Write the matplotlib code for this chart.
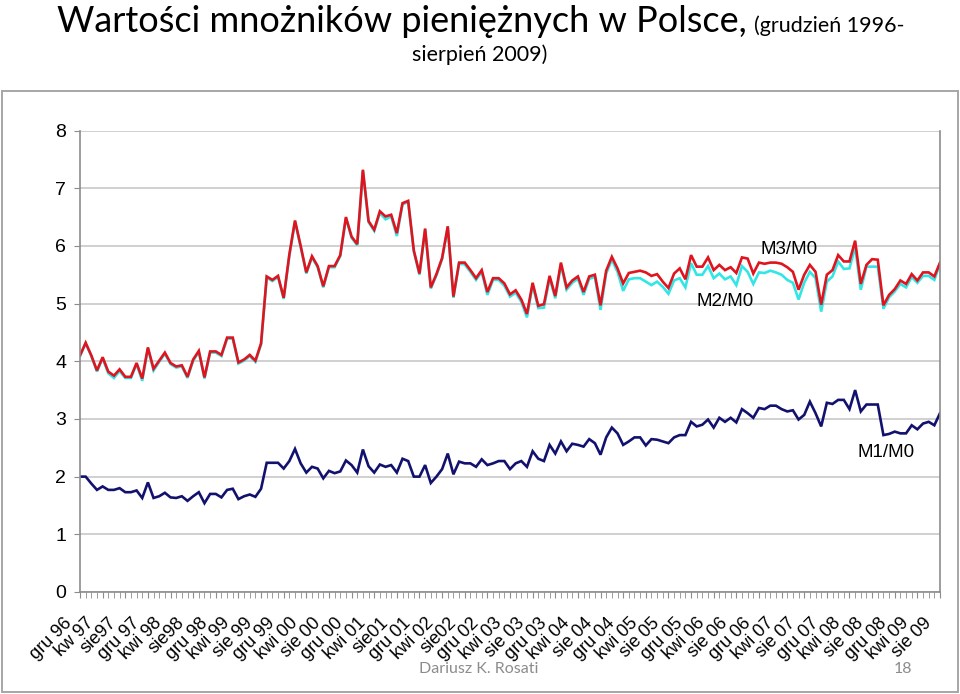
import matplotlib
matplotlib.use("Agg")
import matplotlib.pyplot as plt
import matplotlib.transforms as mtransforms
from matplotlib.patches import Rectangle

# ---- data: monthly, gru 1996 .. sie 2009 (153 months) ----------------------
tick_labels = ["gru 96", "kw 97", "sie97", "gru 97", "kwi 98", "sie98", "gru 98",
               "kwi 99", "sie 99", "gru 99", "kwi 00", "sie 00", "gru 00", "kwi 01",
               "sie01", "gru 01", "kwi 02", "sie02", "gru 02", "kwi 03", "sie 03",
               "gru 03", "kwi 04", "sie 04", "gru 04", "kwi 05", "sie 05", "gru 05",
               "kwi 06", "sie 06", "gru 06", "kwi 07", "sie 07", "gru 07", "kwi 08",
               "sie 08", "gru 08", "kwi 09", "sie 09"]

m3_m0 = [4.10, 4.32, 4.10, 3.84, 4.07, 3.82, 3.75, 3.86, 3.73, 3.73,
         3.97, 3.70, 4.24, 3.87, 4.01, 4.15, 3.97, 3.91, 3.93, 3.73,
         4.03, 4.18, 3.72, 4.17, 4.17, 4.11, 4.41, 4.41, 3.98, 4.03,
         4.11, 4.01, 4.31, 5.47, 5.41, 5.48, 5.10, 5.85, 6.44, 6.00,
         5.54, 5.82, 5.65, 5.30, 5.65, 5.65, 5.84, 6.50, 6.16, 6.03,
         7.32, 6.43, 6.28, 6.60, 6.51, 6.54, 6.22, 6.74, 6.78, 5.92,
         5.52, 6.30, 5.28, 5.51, 5.79, 6.34, 5.12, 5.71, 5.71, 5.58,
         5.44, 5.58, 5.20, 5.44, 5.44, 5.35, 5.16, 5.23, 5.07, 4.82,
         5.36, 4.96, 4.99, 5.48, 5.13, 5.71, 5.28, 5.40, 5.47, 5.20,
         5.47, 5.50, 4.97, 5.57, 5.81, 5.61, 5.35, 5.53, 5.55, 5.57,
         5.54, 5.48, 5.51, 5.38, 5.27, 5.52, 5.61, 5.42, 5.84, 5.64,
         5.64, 5.80, 5.58, 5.67, 5.58, 5.63, 5.53, 5.80, 5.78, 5.52,
         5.71, 5.69, 5.71, 5.71, 5.69, 5.63, 5.55, 5.24, 5.50, 5.67,
         5.55, 4.98, 5.50, 5.58, 5.84, 5.73, 5.73, 6.09, 5.34, 5.67,
         5.77, 5.76, 4.97, 5.15, 5.25, 5.40, 5.34, 5.51, 5.40, 5.54,
         5.54, 5.47, 5.71]

m2_m0 = [4.09, 4.31, 4.09, 3.82, 4.05, 3.79, 3.71, 3.83, 3.71, 3.71,
         3.95, 3.66, 4.22, 3.84, 3.99, 4.13, 3.95, 3.89, 3.91, 3.71,
         4.01, 4.16, 3.70, 4.15, 4.15, 4.09, 4.39, 4.39, 3.96, 4.01,
         4.09, 3.99, 4.29, 5.45, 5.39, 5.46, 5.08, 5.83, 6.42, 5.98,
         5.52, 5.80, 5.63, 5.28, 5.63, 5.63, 5.82, 6.48, 6.14, 6.01,
         7.30, 6.41, 6.26, 6.57, 6.46, 6.51, 6.17, 6.72, 6.76, 5.90,
         5.50, 6.28, 5.26, 5.49, 5.77, 6.32, 5.10, 5.69, 5.68, 5.55,
         5.41, 5.55, 5.15, 5.41, 5.41, 5.31, 5.12, 5.19, 5.03, 4.76,
         5.32, 4.92, 4.93, 5.44, 5.09, 5.67, 5.24, 5.36, 5.43, 5.15,
         5.43, 5.46, 4.89, 5.52, 5.76, 5.55, 5.22, 5.42, 5.44, 5.44,
         5.38, 5.32, 5.38, 5.29, 5.17, 5.40, 5.44, 5.28, 5.70, 5.50,
         5.50, 5.65, 5.44, 5.52, 5.42, 5.47, 5.32, 5.65, 5.55, 5.34,
         5.54, 5.53, 5.57, 5.54, 5.50, 5.41, 5.36, 5.07, 5.36, 5.55,
         5.44, 4.86, 5.38, 5.47, 5.73, 5.60, 5.61, 5.98, 5.24, 5.64,
         5.64, 5.64, 4.91, 5.11, 5.21, 5.34, 5.28, 5.46, 5.36, 5.48,
         5.48, 5.41, 5.69]

m1_m0 = [2.00, 2.00, 1.88, 1.77, 1.83, 1.77, 1.77, 1.80, 1.73, 1.73,
         1.76, 1.63, 1.90, 1.63, 1.66, 1.72, 1.64, 1.63, 1.66, 1.58,
         1.66, 1.73, 1.54, 1.70, 1.70, 1.64, 1.77, 1.79, 1.61, 1.66,
         1.69, 1.65, 1.79, 2.24, 2.24, 2.24, 2.14, 2.27, 2.48, 2.23,
         2.07, 2.17, 2.14, 1.97, 2.10, 2.06, 2.09, 2.28, 2.20, 2.07,
         2.47, 2.18, 2.07, 2.21, 2.17, 2.20, 2.07, 2.31, 2.27, 2.00,
         2.00, 2.20, 1.89, 2.00, 2.13, 2.40, 2.04, 2.26, 2.23, 2.23,
         2.17, 2.30, 2.20, 2.23, 2.27, 2.27, 2.13, 2.23, 2.27, 2.17,
         2.44, 2.31, 2.27, 2.55, 2.40, 2.61, 2.44, 2.57, 2.55, 2.52,
         2.65, 2.58, 2.38, 2.68, 2.85, 2.75, 2.55, 2.61, 2.68, 2.68,
         2.54, 2.65, 2.64, 2.61, 2.58, 2.68, 2.72, 2.72, 2.95, 2.87,
         2.90, 2.99, 2.85, 3.02, 2.95, 3.02, 2.94, 3.17, 3.10, 3.02,
         3.19, 3.17, 3.23, 3.23, 3.17, 3.13, 3.15, 2.99, 3.07, 3.30,
         3.10, 2.87, 3.28, 3.26, 3.33, 3.33, 3.17, 3.50, 3.13, 3.25,
         3.25, 3.25, 2.72, 2.74, 2.78, 2.75, 2.75, 2.89, 2.82, 2.92,
         2.95, 2.89, 3.10]

months = list(range(len(m3_m0)))
label_pos = months[::4]

# ---- figure ----------------------------------------------------------------
W, H = 960, 694
fig = plt.figure(figsize=(W / 100, H / 100), dpi=100)
fig.patch.set_facecolor("white")

# chart-area frame
fig.patches.append(Rectangle((2 / W, 1 - 692 / H), 956 / W, 601 / H, transform=fig.transFigure,
                             fill=False, edgecolor="#a6a6a6", linewidth=1.4))

ax = fig.add_axes([80 / W, 1 - 592 / H, 860 / W, 461.5 / H])
ax.plot(months, m1_m0, color="#12126e", linewidth=1.9, solid_joinstyle="miter")
ax.plot(months, m2_m0, color="#33e6e6", linewidth=1.9, solid_joinstyle="miter")
ax.plot(months, m3_m0, color="#e0141e", linewidth=1.9, solid_joinstyle="miter")

ax.set_xlim(0, len(months) - 1)
ax.set_ylim(0, 8)
ax.set_yticks(range(0, 9))
ax.grid(axis="y", color="#c8c8c8", linewidth=1.2)
ax.set_axisbelow(True)
for s in ax.spines.values():
    s.set_color("#8c8c8c")
    s.set_linewidth(1.2)
ax.spines["top"].set_visible(False)

ax.tick_params(axis="y", labelsize=14, length=4, color="#8c8c8c", pad=6)
for t in ax.get_yticklabels():
    t.set_fontfamily("Liberation Sans")

ax.set_xticks(months, minor=True)
ax.set_xticks(label_pos)
ax.set_xticklabels(tick_labels, rotation=45, ha="right", va="center",
                   rotation_mode="anchor", fontsize=13, fontfamily="Liberation Sans")
ax.tick_params(axis="x", which="both", length=4, color="#8c8c8c", pad=0)
off = mtransforms.ScaledTranslation(-11 / 100, -23 / 100, fig.dpi_scale_trans)
for t in ax.get_xticklabels():
    t.set_transform(t.get_transform() + off)

# series labels
lab_kw = dict(fontsize=13.5, fontfamily="Liberation Sans", ha="center", va="center")
ax.text(125.4, 5.93, "M3/M0", **lab_kw)
ax.text(114.1, 5.03, "M2/M0", **lab_kw)
ax.text(142.4, 2.41, "M1/M0", **lab_kw)

# title
t1 = fig.text(57 / W, 1 - 32 / H, "Wartości mnożników pieniężnych w Polsce,",
              fontsize=26, fontfamily="Lato", ha="left", va="baseline")
fig.canvas.draw()
bb = t1.get_window_extent()
fig.text(bb.x1 / W + 7 / W, 1 - 32 / H, "(grudzień 1996-",
         fontsize=15.5, fontfamily="Lato", ha="left", va="baseline")
fig.text(480 / W, 1 - 61 / H, "sierpień 2009)",
         fontsize=15.5, fontfamily="Lato", ha="center", va="baseline")

# footer
fig.text(479 / W, 1 - 669 / H, "Dariusz K. Rosati", fontsize=11.5, fontfamily="Lato",
         color="#8c8c8c", ha="center", va="center")
fig.text(903 / W, 1 - 669 / H, "18", fontsize=11.5, fontfamily="Lato",
         color="#8c8c8c", ha="center", va="center")

fig.savefig("out.png", dpi=100)
